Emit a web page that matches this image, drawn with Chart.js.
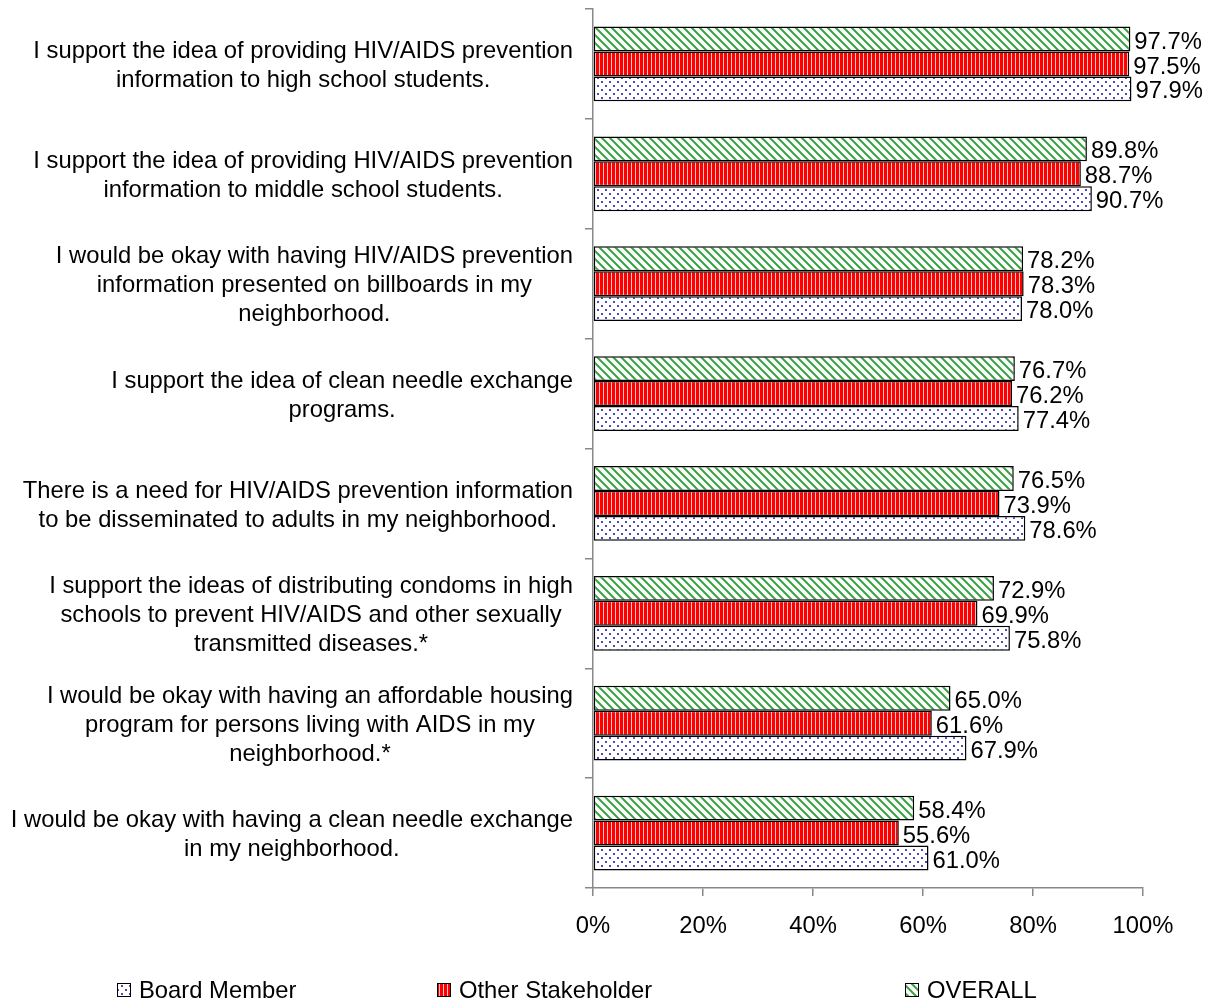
<!DOCTYPE html>
<html>
<head>
<title>HIV/AIDS prevention attitudes</title>
<script src="https://cdn.jsdelivr.net/npm/chart.js"></script>
<style>
  body { margin: 0; background: #fff; }
</style>
</head>
<body>
<canvas id="myChart" width="1215" height="1002"></canvas>
<script type="text/javascript">
// survey statements, top to bottom
var statements = [
  ['I support the idea of providing HIV/AIDS prevention', 'information to high school students.'],
  ['I support the idea of providing HIV/AIDS prevention', 'information to middle school students.'],
  ['I would be okay with having HIV/AIDS prevention', 'information presented on billboards in my', 'neighborhood.'],
  ['I support the idea of clean needle exchange', 'programs.'],
  ['There is a need for HIV/AIDS prevention information', 'to be disseminated to adults in my neighborhood.'],
  ['I support the ideas of distributing condoms in high', 'schools to prevent HIV/AIDS and other sexually', 'transmitted diseases.*'],
  ['I would be okay with having an affordable housing', 'program for persons living with AIDS in my', 'neighborhood.*'],
  ['I would be okay with having a clean needle exchange', 'in my neighborhood.']
];
var overall          = [97.7, 89.8, 78.2, 76.7, 76.5, 72.9, 65.0, 58.4];
var otherStakeholder = [97.5, 88.7, 78.3, 76.2, 73.9, 69.9, 61.6, 55.6];
var boardMember      = [97.9, 90.7, 78.0, 77.4, 78.6, 75.8, 67.9, 61.0];
var xTickValues = [0, 20, 40, 60, 80, 100];

var FONT = '"Liberation Sans", Arial, sans-serif';
var FONT_SIZE = 23.8;

// fill patterns
function makePattern(w, h, paint) {
  var c = document.createElement('canvas');
  c.width = w; c.height = h;
  var g = c.getContext('2d');
  paint(g, w, h);
  return document.getElementById('myChart').getContext('2d').createPattern(c, 'repeat');
}
var dotsBlue = makePattern(8, 8, function (g, w, h) {
  g.fillStyle = '#fff'; g.fillRect(0, 0, w, h);
  g.fillStyle = '#4a4ab8';
  g.fillRect(1, 1, 2, 2);
  g.fillRect(5, 5, 2, 2);
});
var stripesRed = makePattern(4, 4, function (g, w, h) {
  g.fillStyle = '#ff0000'; g.fillRect(0, 0, w, h);
  g.fillStyle = '#ffc4c4'; g.fillRect(3, 0, 1, h);
});
var diagGreen = makePattern(8, 8, function (g, w, h) {
  g.fillStyle = '#fff'; g.fillRect(0, 0, w, h);
  g.strokeStyle = '#3aa044'; g.lineWidth = 2;
  g.beginPath();
  g.moveTo(-2, -2); g.lineTo(w + 2, h + 2);
  g.moveTo(-2, h - 2); g.lineTo(2, h + 2);
  g.moveTo(w - 2, -2); g.lineTo(w + 2, 2);
  g.stroke();
});

var legendItems = [
  { label: 'Board Member', fill: dotsBlue, x: 117 },
  { label: 'Other Stakeholder', fill: stripesRed, x: 437 },
  { label: 'OVERALL', fill: diagGreen, x: 905 }
];

// statement labels: block right-aligned to the axis, lines centred within
var statementLabels = {
  id: 'statementLabels',
  afterDraw: function (chart) {
    var ctx = chart.ctx, y = chart.scales.y;
    ctx.save();
    ctx.font = FONT_SIZE + 'px ' + FONT;
    ctx.fillStyle = '#000';
    ctx.textAlign = 'center';
    ctx.textBaseline = 'middle';
    var lineH = 29, rightEdge = y.right - 20;
    statements.forEach(function (lines, i) {
      var widest = 0;
      lines.forEach(function (l) { widest = Math.max(widest, ctx.measureText(l).width); });
      var cx = rightEdge - widest / 2;
      var cy = y.getPixelForTick(i) + 2;
      var top = cy - (lines.length - 1) * lineH / 2;
      lines.forEach(function (l, k) { ctx.fillText(l, cx, top + k * lineH); });
    });
    ctx.restore();
  }
};

// percentage next to each bar end
var valueLabels = {
  id: 'valueLabels',
  afterDatasetsDraw: function (chart) {
    var ctx = chart.ctx;
    ctx.save();
    ctx.font = FONT_SIZE + 'px ' + FONT;
    ctx.fillStyle = '#000';
    ctx.textAlign = 'left';
    ctx.textBaseline = 'middle';
    chart.data.datasets.forEach(function (ds, di) {
      chart.getDatasetMeta(di).data.forEach(function (bar, i) {
        ctx.fillText(ds.data[i].toFixed(1) + '%', bar.x + 4, bar.y + 3);
      });
    });
    ctx.restore();
  }
};

var bottomLegend = {
  id: 'bottomLegend',
  afterDraw: function (chart) {
    var ctx = chart.ctx, yc = 990;
    ctx.save();
    ctx.font = FONT_SIZE + 'px ' + FONT;
    ctx.textBaseline = 'middle';
    legendItems.forEach(function (it) {
      ctx.fillStyle = it.fill;
      ctx.fillRect(it.x, yc - 7, 14, 14);
      ctx.strokeStyle = '#000'; ctx.lineWidth = 1;
      ctx.strokeRect(it.x + 0.5, yc - 6.5, 13, 13);
      ctx.fillStyle = '#000';
      ctx.fillText(it.label, it.x + 22, yc + 1);
    });
    ctx.restore();
  }
};

var ctx = document.getElementById('myChart').getContext('2d');
new Chart(ctx, {
  type: 'bar',
  data: {
    labels: statements,
    datasets: [
      { label: 'OVERALL', data: overall, backgroundColor: diagGreen },
      { label: 'Other Stakeholder', data: otherStakeholder, backgroundColor: stripesRed },
      { label: 'Board Member', data: boardMember, backgroundColor: dotsBlue }
    ]
  },
  options: {
    indexAxis: 'y',
    responsive: false,
    animation: false,
    events: [],
    datasets: {
      bar: {
        categoryPercentage: 0.68,
        barPercentage: 1.0,
        borderColor: '#000',
        borderWidth: 1.5,
        borderSkipped: false
      }
    },
    layout: { padding: { top: 9, right: 72, bottom: 0, left: 0 } },
    plugins: { legend: { display: false }, tooltip: { enabled: false } },
    scales: {
      x: {
        min: 0, max: 100,
        afterBuildTicks: function (s) { s.ticks = xTickValues.map(function (v) { return { value: v }; }); },
        afterFit: function (s) { s.height = 114; },
        grid: { drawOnChartArea: false, tickLength: 8, color: '#888', lineWidth: 1.5 },
        border: { color: '#888', width: 1.5 },
        ticks: {
          color: '#000', padding: 16,
          font: { family: FONT, size: FONT_SIZE },
          callback: function (v) { return v + '%'; }
        }
      },
      y: {
        offset: true,
        afterFit: function (s) { s.width = 593; },
        grid: { offset: true, drawOnChartArea: false, tickLength: 8, color: '#888', lineWidth: 1.5 },
        border: { color: '#888', width: 1.5 },
        ticks: { display: false }
      }
    }
  },
  plugins: [statementLabels, valueLabels, bottomLegend]
});
</script>
</body>
</html>
